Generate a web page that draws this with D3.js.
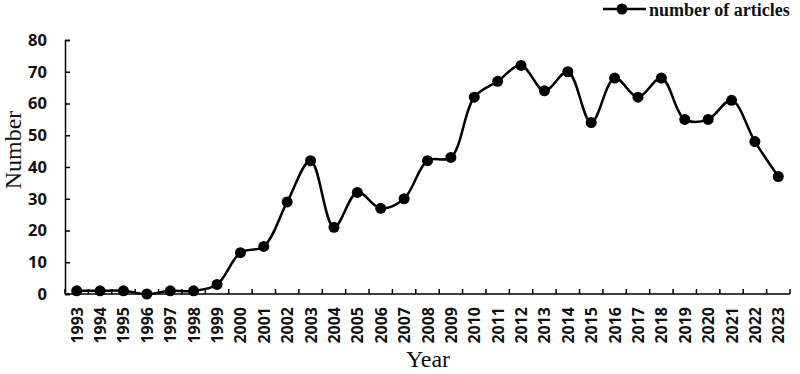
<!DOCTYPE html>
<html>
<head>
<meta charset="utf-8">
<script src="https://cdn.jsdelivr.net/npm/d3@7"></script>
<style>
body { margin: 0; background: #fff; }
svg { display: block; }
</style>
</head>
<body>
<svg id="chart"></svg>
<script>
var years = ['1993','1994','1995','1996','1997','1998','1999','2000','2001','2002','2003','2004','2005','2006','2007','2008','2009','2010','2011','2012','2013','2014','2015','2016','2017','2018','2019','2020','2021','2022','2023'];
var articles = [1,1,1,0,1,1,3,13,15,29,42,21,32,27,30,42,43,62,67,72,64,70,54,68,62,68,55,55,61,48,37];
var yTicks = [0,10,20,30,40,50,60,70,80];
var seriesName = 'number of articles';

var width = 800, height = 374;
var plotLeft = 65, plotRight = 790, plotTop = 40, plotBottom = 294;

var svg = d3.select('#chart')
	.attr('width', width)
	.attr('height', height);

var x = d3.scaleBand()
	.domain(years)
	.range([plotLeft, plotRight]);

var y = d3.scaleLinear()
	.domain([0, 80])
	.range([plotBottom, plotTop]);

var points = years.map(function(yr, i) {
	return {year: yr, value: articles[i]};
});

// y axis
var yAxis = svg.append('g')
	.attr('transform', 'translate(' + plotLeft + ',0)')
	.call(d3.axisLeft(y).tickValues(yTicks).tickSize(-5).tickPadding(18));
yAxis.select('.domain').attr('stroke', '#000').attr('stroke-width', 1.5);
yAxis.selectAll('.tick line').attr('stroke', '#000').attr('stroke-width', 1.5);
yAxis.selectAll('.tick text')
	.attr('font-family', 'Noto Sans, sans-serif')
	.attr('font-weight', 'bold')
	.attr('font-size', 16.5)
	.attr('fill', '#111');

// x axis, ticks at category boundaries
var xAxis = svg.append('g')
	.attr('transform', 'translate(0,' + plotBottom + ')');
xAxis.append('line')
	.attr('x1', plotLeft).attr('x2', plotRight)
	.attr('y1', 0).attr('y2', 0)
	.attr('stroke', '#000').attr('stroke-width', 1.5);
xAxis.selectAll('.xtick')
	.data(years.concat(['end']))
	.enter().append('line')
	.attr('class', 'xtick')
	.attr('x1', function(d, i) { return i < years.length ? x(d) : plotRight; })
	.attr('x2', function(d, i) { return i < years.length ? x(d) : plotRight; })
	.attr('y1', 0).attr('y2', -5)
	.attr('stroke', '#000').attr('stroke-width', 1.5);
xAxis.selectAll('.xlabel')
	.data(years)
	.enter().append('text')
	.attr('class', 'xlabel')
	.attr('transform', function(d) {
		return 'translate(' + (x(d) + x.bandwidth() / 2 + 6) + ',13) rotate(-90)';
	})
	.attr('text-anchor', 'end')
	.attr('font-family', 'Noto Sans, sans-serif')
	.attr('font-weight', 'bold')
	.attr('font-size', 16)
	.attr('fill', '#111')
	.text(function(d) { return d; });

// axis titles
svg.append('text')
	.attr('x', 428)
	.attr('y', 367)
	.attr('text-anchor', 'middle')
	.attr('font-family', 'Liberation Serif, serif')
	.attr('font-size', 24)
	.attr('fill', '#111')
	.text('Year');

svg.append('text')
	.attr('transform', 'translate(21,150) rotate(-90)')
	.attr('text-anchor', 'middle')
	.attr('font-family', 'Liberation Serif, serif')
	.attr('font-size', 24)
	.attr('fill', '#111')
	.text('Number');

// line
var line = d3.line()
	.x(function(d) { return x(d.year) + x.bandwidth() / 2; })
	.y(function(d) { return y(d.value); })
	.curve(d3.curveCatmullRom.alpha(0.5));

svg.append('path')
	.datum(points)
	.attr('d', line)
	.attr('fill', 'none')
	.attr('stroke', '#000')
	.attr('stroke-width', 2.5);

svg.selectAll('.dot')
	.data(points)
	.enter().append('circle')
	.attr('class', 'dot')
	.attr('cx', function(d) { return x(d.year) + x.bandwidth() / 2; })
	.attr('cy', function(d) { return y(d.value); })
	.attr('r', 5.5)
	.attr('fill', '#000');

// legend
var legend = svg.append('g');
legend.append('line')
	.attr('x1', 603).attr('x2', 646)
	.attr('y1', 9).attr('y2', 9)
	.attr('stroke', '#000').attr('stroke-width', 2.5);
legend.append('circle')
	.attr('cx', 622).attr('cy', 9).attr('r', 5.5)
	.attr('fill', '#000');
legend.append('text')
	.attr('x', 649)
	.attr('y', 16)
	.attr('font-family', 'Liberation Serif, serif')
	.attr('font-weight', 'bold')
	.attr('font-size', 18)
	.attr('fill', '#111')
	.text(seriesName);
</script>
</body>
</html>
